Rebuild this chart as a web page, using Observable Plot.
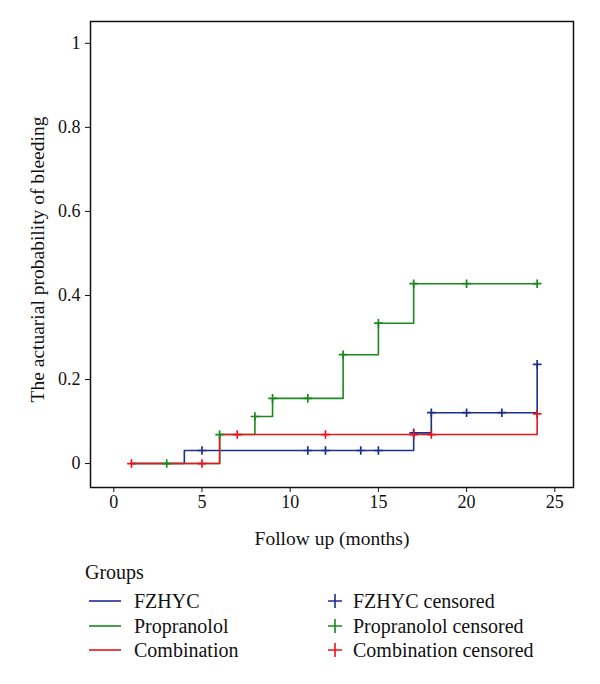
<!DOCTYPE html>
<html>
<head>
<meta charset="utf-8">
<script src="https://cdn.jsdelivr.net/npm/d3@7"></script>
<script src="https://cdn.jsdelivr.net/npm/@observablehq/plot@0.6"></script>
<style>
  body { margin: 0; background: #fff; }
  #wrap { position: relative; width: 600px; height: 684px; font-family: "Liberation Serif", serif; }
  .lg { position: absolute; font-size: 20px; color: #111; white-space: nowrap; line-height: 22px; }
</style>
</head>
<body>
<div id="wrap"></div>
<script>
// ---- Data ----
const groups = ["FZHYC", "Propranolol", "Combination"];
const colors = ["#1c2f8a", "#1a8a1f", "#e5161c"];

// step curves: time of change and cumulative probability after change
const fzhycTimes = [1, 4, 17, 18, 24];
const fzhycProb  = [0, 0.031, 0.073, 0.121, 0.236];
const propTimes  = [1, 6, 8, 9, 13, 15, 17, 24];
const propProb   = [0, 0.069, 0.112, 0.155, 0.259, 0.334, 0.428, 0.428];
const combTimes  = [1, 6, 24];
const combProb   = [0, 0.069, 0.118];

// censored observations
const fzhycCensT = [5, 11, 12, 14, 15, 17, 18, 20, 22, 24];
const fzhycCensP = [0.031, 0.031, 0.031, 0.031, 0.031, 0.073, 0.121, 0.121, 0.121, 0.236];
const propCensT  = [3, 6, 8, 9, 11, 13, 15, 17, 20, 24];
const propCensP  = [0, 0.069, 0.112, 0.155, 0.155, 0.259, 0.334, 0.428, 0.428, 0.428];
const combCensT  = [1, 5, 7, 12, 17, 18, 24];
const combCensP  = [0, 0, 0.069, 0.069, 0.069, 0.069, 0.118];

const xTicks = [0, 5, 10, 15, 20, 25];
const yTicks = [0, 0.2, 0.4, 0.6, 0.8, 1];
const xTitle = "Follow up (months)";
const yTitle = "The actuarial probability of bleeding";
const legendTitle = "Groups";

// ---- Build tables ----
const toRows = (g, T, P) => T.map((t, i) => ({group: g, t, p: P[i]}));
const curves = [
  ...toRows(groups[0], fzhycTimes, fzhycProb),
  ...toRows(groups[1], propTimes, propProb),
  ...toRows(groups[2], combTimes, combProb)
];
const cens = [
  ...toRows(groups[0], fzhycCensT, fzhycCensP),
  ...toRows(groups[1], propCensT, propCensP),
  ...toRows(groups[2], combCensT, combCensP)
];

const plusSymbol = {
  draw(ctx, size) {
    const r = Math.sqrt(size / Math.PI);
    ctx.moveTo(-r, 0); ctx.lineTo(r, 0);
    ctx.moveTo(0, -r); ctx.lineTo(0, r);
  }
};

const W = 600, H = 552;
const chart = Plot.plot({
  width: W,
  height: H,
  marginLeft: 90,
  marginRight: 27,
  marginTop: 21,
  marginBottom: H - 487,
  style: {fontFamily: "Liberation Serif", fontSize: "18px", color: "#111", background: "transparent"},
  x: {domain: [-1.32, 26.06]},
  y: {domain: [-0.057, 1.052]},
  color: {domain: groups, range: colors},
  marks: [
    Plot.axisX({ticks: xTicks, tickSize: 5, tickPadding: 3, fontSize: 18, label: null}),
    Plot.axisY({ticks: yTicks, tickSize: 5, tickPadding: 5, fontSize: 18, label: null,
      tickFormat: d => (d === 0 || d === 1) ? String(d) : d.toFixed(1)}),
    Plot.line(curves, {x: "t", y: "p", z: "group", stroke: "group", curve: "step-after", strokeWidth: 1.6}),
    Plot.dot(cens, {x: "t", y: "p", stroke: "group", symbol: plusSymbol, r: 4.3, strokeWidth: 1.7}),
    Plot.frame({stroke: "#111", strokeWidth: 1.5}),
    Plot.text([xTitle], {frameAnchor: "bottom", dy: 51, lineAnchor: "middle", textAnchor: "middle", fontSize: 19.5, fill: "#111"}),
    Plot.text([yTitle], {frameAnchor: "left", dx: -53, dy: 5, rotate: -90, lineAnchor: "middle", textAnchor: "middle", fontSize: 19.5, fill: "#111"})
  ]
});

const wrap = document.getElementById("wrap");
wrap.appendChild(chart);

// ---- Legend (HTML below the SVG) ----
function addText(txt, x, yc) {
  const d = document.createElement("div");
  d.className = "lg";
  d.textContent = txt;
  d.style.left = x + "px";
  d.style.top = (yc - 11) + "px";
  wrap.appendChild(d);
}
function addSwatch(kind, color, x, yc) {
  const ns = "http://www.w3.org/2000/svg";
  const s = document.createElementNS(ns, "svg");
  s.setAttribute("width", 34); s.setAttribute("height", 16);
  s.style.position = "absolute";
  s.style.left = x + "px"; s.style.top = (yc - 8) + "px";
  if (kind === "line") {
    const l = document.createElementNS(ns, "line");
    l.setAttribute("x1", 1); l.setAttribute("x2", 33); l.setAttribute("y1", 8); l.setAttribute("y2", 8);
    l.setAttribute("stroke", color); l.setAttribute("stroke-width", 1.6);
    s.appendChild(l);
  } else {
    const p = document.createElementNS(ns, "path");
    p.setAttribute("d", "M1,8H15M8,1V15");
    p.setAttribute("stroke", color); p.setAttribute("stroke-width", 1.6); p.setAttribute("fill", "none");
    s.appendChild(p);
  }
  wrap.appendChild(s);
}
addText(legendTitle, 85, 572);
const rowsY = [601, 626, 650];
groups.forEach((g, i) => {
  addSwatch("line", colors[i], 88, rowsY[i]);
  addText(g, 134, rowsY[i]);
  addSwatch("plus", colors[i], 327, rowsY[i]);
  addText(g + " censored", 353, rowsY[i]);
});
</script>
</body>
</html>
